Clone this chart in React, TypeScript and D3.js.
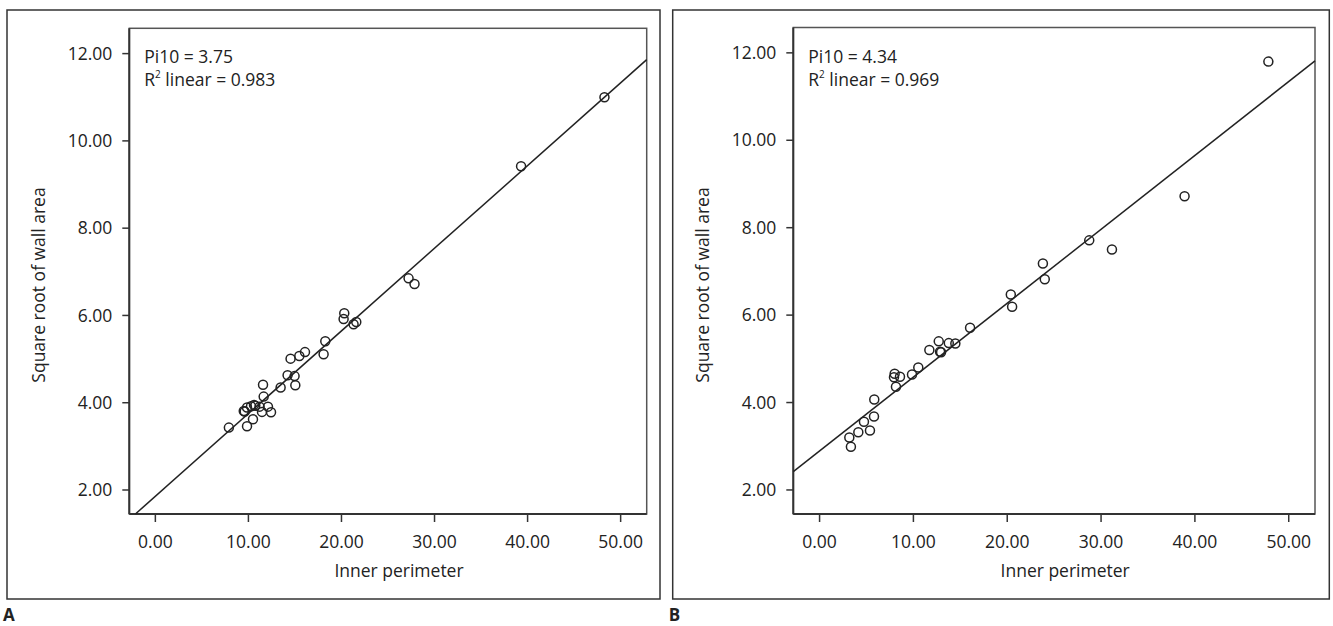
import React from 'react';
import * as d3 from 'd3';

const W = 1333;
const H = 626;
const FONT = '"Open Sans", sans-serif';

// panel A
const xA = [7.9, 9.85, 10.49, 9.5, 9.6, 9.85, 10.28, 10.6, 10.74, 11.2, 11.46, 12.43, 12.1, 11.64, 11.57, 13.46, 14.21, 14.96, 15.04, 14.53, 15.47, 16.08, 18.08, 18.26, 20.23, 20.3, 21.3, 21.59, 27.21, 27.85, 39.3, 48.26];
const yA = [3.43, 3.46, 3.62, 3.81, 3.8, 3.89, 3.92, 3.95, 3.93, 3.91, 3.79, 3.78, 3.91, 4.14, 4.41, 4.35, 4.63, 4.61, 4.4, 5.01, 5.07, 5.16, 5.11, 5.41, 5.92, 6.05, 5.8, 5.85, 6.85, 6.72, 9.42, 11.0];
const fitA = [1.856, 0.1895]; // intercept, slope
const statsA = ['3.75', '0.983'];

// panel B
const xB = [3.34, 3.17, 4.13, 4.73, 5.37, 5.8, 5.83, 8.14, 7.93, 8.0, 8.57, 9.85, 10.52, 11.7, 12.84, 12.95, 12.7, 13.77, 14.47, 16.04, 20.38, 20.52, 24.0, 23.8, 28.74, 31.16, 38.9, 47.83];
const yB = [2.99, 3.2, 3.32, 3.56, 3.36, 3.68, 4.07, 4.36, 4.58, 4.66, 4.59, 4.64, 4.8, 5.2, 5.16, 5.15, 5.4, 5.36, 5.35, 5.71, 6.47, 6.19, 6.82, 7.18, 7.71, 7.5, 8.72, 11.8];
const fitB = [2.893, 0.169];
const statsB = ['4.34', '0.969'];

const xTicks = [0, 10, 20, 30, 40, 50];
const yTicks = [2, 4, 6, 8, 10, 12];
const xDomain = [-2.8, 52.8];
const yDomain = [1.45, 12.58];

const fmt = d3.format('.2f');

type PanelProps = {
  letter: string;
  frame: [number, number, number, number];
  plot: [number, number, number, number];
  xs: number[];
  ys: number[];
  fit: number[];
  stats: string[];
};

function Panel({ letter, frame, plot, xs, ys, fit, stats }: PanelProps) {
  const [fl, ft, fr, fb] = frame;
  const [pl, pt, pr, pb] = plot;
  const x = d3.scaleLinear().domain(xDomain).range([pl, pr]);
  const y = d3.scaleLinear().domain(yDomain).range([pb, pt]);

  // regression line clipped to plot box
  const x0 = Math.max(xDomain[0], (yDomain[0] - fit[0]) / fit[1]);
  const x1 = Math.min(xDomain[1], (yDomain[1] - fit[0]) / fit[1]);
  const line = d3.line<number>().x(d => x(d)).y(d => y(fit[0] + fit[1] * d));

  return (
    <g fontFamily={FONT} fill="#222">
      <rect x={fl} y={ft} width={fr - fl} height={fb - ft} fill="none" stroke="#333" strokeWidth={1.5} />
      <rect x={pl} y={pt} width={pr - pl} height={pb - pt} fill="none" stroke="#555" strokeWidth={1.5} />
      <line x1={pl} y1={pt} x2={pl} y2={pb} stroke="#333" strokeWidth={2} />
      <line x1={pl} y1={pb} x2={pr} y2={pb} stroke="#333" strokeWidth={2} />
      {yTicks.map(t => (
        <g key={'y' + t}>
          <line x1={pl - 7} x2={pl} y1={y(t)} y2={y(t)} stroke="#333" strokeWidth={1.5} />
          <text x={pl - 17} y={y(t)} dy="0.35em" textAnchor="end" fontSize={17.5}>{fmt(t)}</text>
        </g>
      ))}
      {xTicks.map(t => (
        <g key={'x' + t}>
          <line x1={x(t)} x2={x(t)} y1={pb} y2={pb + 8} stroke="#333" strokeWidth={1.5} />
          <text x={x(t)} y={pb + 34} textAnchor="middle" fontSize={17.5}>{fmt(t)}</text>
        </g>
      ))}
      <text x={(pl + pr) / 2 + 11} y={pb + 63} textAnchor="middle" fontSize={17.5}>Inner perimeter</text>
      <text transform={`translate(${pl - 84},285) rotate(-90)`} textAnchor="middle" fontSize={17.5}>Square root of wall area</text>
      <path d={line([x0, x1]) || ''} fill="none" stroke="#222" strokeWidth={1.5} />
      {xs.map((v, i) => (
        <circle key={i} cx={x(v)} cy={y(ys[i])} r={4.5} fill="none" stroke="#222" strokeWidth={1.5} />
      ))}
      <text x={pl + 15} y={63} fontSize={17.5}>Pi10 = {stats[0]}</text>
      <text x={pl + 15} y={86} fontSize={17.5}>
        R<tspan fontSize={10} dy={-8}>2</tspan><tspan dy={8}> linear = {stats[1]}</tspan>
      </text>
      <text x={fl - 4} y={621} fontSize={17} fontWeight="bold">{letter}</text>
    </g>
  );
}

export default function App() {
  return (
    <svg width={W} height={H} style={{ position: 'absolute', left: 0, top: 0, background: '#fff' }}>
      <rect width={W} height={H} fill="#fff" />
      <Panel letter="A" frame={[7, 10, 660, 599]} plot={[129.3, 28.3, 646.7, 514]} xs={xA} ys={yA} fit={fitA} stats={statsA} />
      <Panel letter="B" frame={[672.7, 10, 1329.3, 599]} plot={[793.3, 27.5, 1315, 514]} xs={xB} ys={yB} fit={fitB} stats={statsB} />
    </svg>
  );
}
